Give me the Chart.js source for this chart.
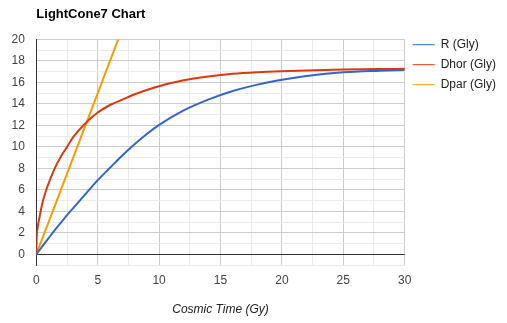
<!DOCTYPE html>
<html>
<head>
<meta charset="utf-8">
<title>LightCone7 Chart</title>
<script src="https://cdn.jsdelivr.net/npm/chart.js@4"></script>
<style>
  html, body { margin: 0; padding: 0; background: #fff; }
  #wrap { width: 507px; height: 323px; position: relative; }
</style>
</head>
<body>
<div id="wrap"><canvas id="lightCone"></canvas></div>
<script>
// cosmic time (Gy) shared by R and Dhor
const timeGy = [0, 0.02, 0.1, 0.25, 0.5, 0.75, 1, 1.5, 2, 2.5, 3, 4, 5, 6, 7, 8, 9, 10, 12, 14, 16, 18, 20, 22, 25, 28, 30];
const rGly = [0, 0.03, 0.15, 0.38, 0.75, 1.13, 1.5, 2.25, 2.95, 3.65, 4.3, 5.6, 6.9, 8.05, 9.2, 10.25, 11.2, 12.05, 13.4, 14.4, 15.2, 15.8, 16.25, 16.6, 16.95, 17.1, 17.17];
const dhorGly = [0, 1.3, 2.4, 3.4, 4.8, 5.8, 6.6, 8.0, 9.1, 10.0, 10.9, 12.2, 13.2, 13.9, 14.4, 14.9, 15.3, 15.65, 16.2, 16.55, 16.8, 16.95, 17.05, 17.12, 17.2, 17.25, 17.27];

// Dpar is a straight line, runs off the top of the plot
const dparTime = [0, 2, 4, 6, 7];
const dparGly = [0, 6, 12, 18, 21];

const seriesNames = ['R (Gly)', 'Dhor (Gly)', 'Dpar (Gly)'];
const seriesColors = ['#3366cc', '#dc3912', '#ff9900'];

const FONT = 'Arial, "Liberation Sans", sans-serif';

function toPoints(xs, ys) {
    return xs.map((x, i) => ({ x: x, y: ys[i] }));
}

const ctx = document.getElementById('lightCone').getContext('2d');

new Chart(ctx, {
    type: 'line',
    data: {
        datasets: [
            { label: seriesNames[0], data: toPoints(timeGy, rGly), borderColor: seriesColors[0], backgroundColor: seriesColors[0] },
            { label: seriesNames[1], data: toPoints(timeGy, dhorGly), borderColor: seriesColors[1], backgroundColor: seriesColors[1] },
            { label: seriesNames[2], data: toPoints(dparTime, dparGly), borderColor: seriesColors[2], backgroundColor: seriesColors[2] }
        ]
    },
    options: {
        responsive: true,
        maintainAspectRatio: false,
        animation: false,
        layout: { padding: { left: 0, right: 1, top: 0, bottom: 0 } },
        elements: {
            line: { borderWidth: 2, cubicInterpolationMode: 'monotone' },
            point: { radius: 0, hoverRadius: 0 }
        },
        plugins: {
            title: {
                display: true,
                text: 'LightCone7 Chart',
                align: 'start',
                fullSize: false,
                color: '#000',
                font: { family: FONT, size: 13, weight: 'bold' },
                padding: { top: 6.7, bottom: 17.2 }
            },
            legend: {
                position: 'right',
                align: 'start',
                // empty title only pushes the items down level with the plot
                title: { display: true, text: '', font: { family: FONT, size: 12 }, padding: { top: 16.3, bottom: 0 } },
                labels: {
                    usePointStyle: true,
                    pointStyle: 'line',
                    pointStyleWidth: 22,
                    padding: 8,
                    color: '#222',
                    font: { family: FONT, size: 12 }
                }
            },
            tooltip: { enabled: false }
        },
        scales: {
            x: {
                type: 'linear',
                min: 0,
                max: 30,
                border: { display: false },
                grid: {
                    drawTicks: false,
                    color: c => c.tick.value === 0 ? '#333' : (c.tick.value % 5 === 0 ? '#cccccc' : '#ebebeb')
                },
                ticks: {
                    stepSize: 2.5,
                    autoSkip: false,
                    maxRotation: 0,
                    padding: 8,
                    color: '#444',
                    font: { family: FONT, size: 12 },
                    callback: v => v % 5 === 0 ? v : ''
                },
                title: {
                    display: true,
                    text: 'Cosmic Time (Gy)',
                    color: '#222',
                    font: { family: FONT, size: 12, style: 'italic' },
                    padding: { top: 7.4, bottom: 5.8 }
                }
            },
            y: {
                min: -1,
                max: 20,
                border: { display: true, color: '#333' },
                grid: {
                    drawTicks: false,
                    color: c => c.tick.value === 0 ? '#333' : (c.tick.value % 2 === 0 ? '#cccccc' : '#ebebeb')
                },
                ticks: {
                    stepSize: 1,
                    autoSkip: false,
                    padding: 11.5,
                    color: '#444',
                    font: { family: FONT, size: 12 },
                    callback: v => (v >= 0 && v % 2 === 0) ? v : ''
                }
            }
        }
    }
});
</script>
</body>
</html>
